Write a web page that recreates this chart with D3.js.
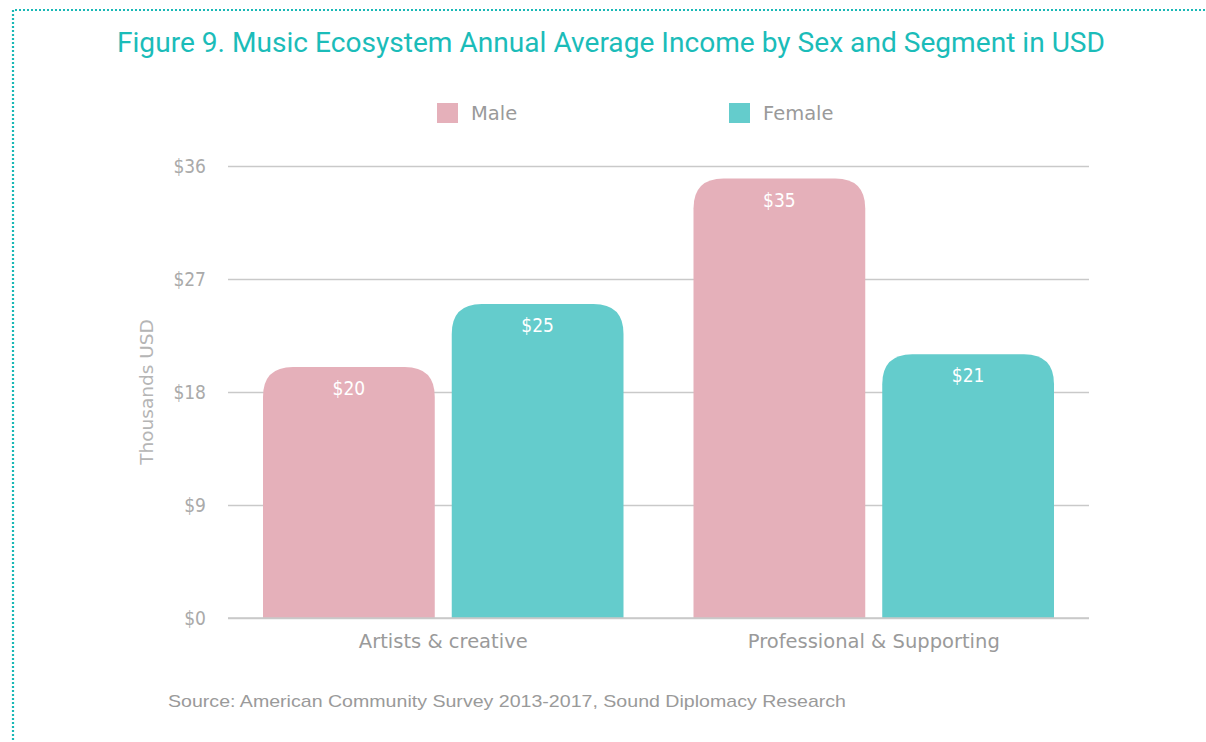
<!DOCTYPE html>
<html>
<head>
<meta charset="utf-8">
<script src="https://cdn.jsdelivr.net/npm/d3@7"></script>
<style>
  html, body { margin: 0; padding: 0; background: #fff; overflow: hidden; }
  svg { display: block; }
</style>
</head>
<body>
<svg id="chart" width="1206" height="742"></svg>
<script>
// Segments, series and values (thousands USD)
const segments = ["Artists & creative", "Professional & Supporting"];
const seriesNames = ["Male", "Female"];
const maleValues = [20, 35];
const femaleValues = [25, 21];
const yTicks = [0, 9, 18, 27, 36];
const seriesColors = ["#e5b0ba", "#64cccc"];

const titleText = "Figure 9. Music Ecosystem Annual Average Income by Sex and Segment in USD";
const sourceText = "Source: American Community Survey 2013-2017, Sound Diplomacy Research";
const yTitle = "Thousands USD";

const rows = segments.map((s, i) => ({ segment: s, values: [maleValues[i], femaleValues[i]] }));

const svg = d3.select("#chart");
const labelFont = "'DejaVu Sans', sans-serif";
const narrowFont = "'DejaVu Sans Condensed', 'DejaVu Sans', sans-serif";

// Dotted frame
svg.append("path")
  .attr("d", "M13,760 V10 H1220")
  .attr("fill", "none")
  .attr("stroke", "#19b8b6")
  .attr("stroke-width", 2.2)
  .attr("stroke-dasharray", "2 2");

// Title
svg.append("text")
  .attr("x", 611).attr("y", 52)
  .attr("text-anchor", "middle")
  .attr("font-family", "Roboto, sans-serif")
  .attr("font-size", 27)
  .attr("fill", "#1bbcb9")
  .attr("textLength", 988)
  .attr("lengthAdjust", "spacingAndGlyphs")
  .text(titleText);

// Plot area
const plot = { left: 228, right: 1089, top: 166, bottom: 618 };

const x0 = d3.scaleBand().domain(segments).range([plot.left, plot.right]).paddingInner(0).paddingOuter(0);
const x1 = d3.scaleBand().domain(seriesNames).range([35, x0.bandwidth() - 35]).paddingInner(0.09);
const y = d3.scaleLinear().domain([0, 36]).range([plot.bottom, plot.top]);
const color = d3.scaleOrdinal().domain(seriesNames).range(seriesColors);

// Gridlines and y tick labels
const yAxis = d3.axisLeft(y)
  .tickValues(yTicks)
  .tickSize(-(plot.right - plot.left))
  .tickPadding(22)
  .tickFormat(d => "$" + d);

const gy = svg.append("g")
  .attr("transform", `translate(${plot.left},0)`)
  .call(yAxis);
gy.select(".domain").remove();
gy.selectAll(".tick line").attr("stroke", "#c9c9c9").attr("stroke-width", 1.5);
gy.selectAll(".tick text")
  .attr("font-family", narrowFont)
  .attr("font-size", 19)
  .attr("fill", "#aaaaaa");

// Y axis title
svg.append("text")
  .attr("transform", "translate(153,392) rotate(-90)")
  .attr("text-anchor", "middle")
  .attr("font-family", labelFont)
  .attr("font-size", 18.5)
  .attr("fill", "#b5b5b5")
  .text(yTitle);

// Bars with rounded top corners
function topRounded(x, yTop, w, h, r) {
  r = Math.min(r, w / 2, h);
  return `M${x},${yTop + h} V${yTop + r} Q${x},${yTop} ${x + r},${yTop} H${x + w - r} Q${x + w},${yTop} ${x + w},${yTop + r} V${yTop + h} Z`;
}

const groups = svg.append("g").selectAll("g")
  .data(rows).join("g")
  .attr("transform", d => `translate(${x0(d.segment)},0)`);

const bars = groups.selectAll("g.bar")
  .data(d => d.values.map((v, i) => ({ name: seriesNames[i], value: v })))
  .join("g").attr("class", "bar");

bars.append("path")
  .attr("d", d => topRounded(x1(d.name), y(d.value), x1.bandwidth(), plot.bottom - y(d.value), 30))
  .attr("fill", d => color(d.name));

bars.append("text")
  .attr("x", d => x1(d.name) + x1.bandwidth() / 2)
  .attr("y", d => y(d.value) + 28)
  .attr("text-anchor", "middle")
  .attr("font-family", narrowFont)
  .attr("font-size", 19)
  .attr("fill", "#ffffff")
  .text(d => "$" + d.value);

// Baseline
svg.append("line")
  .attr("x1", plot.left).attr("x2", plot.right)
  .attr("y1", plot.bottom).attr("y2", plot.bottom)
  .attr("stroke", "#c9c9c9").attr("stroke-width", 1.5);

// Category labels
const xAxis = d3.axisBottom(x0).tickSize(0).tickPadding(16);
const gx = svg.append("g")
  .attr("transform", `translate(0,${plot.bottom})`)
  .call(xAxis);
gx.select(".domain").remove();
gx.selectAll(".tick text")
  .attr("font-family", labelFont)
  .attr("font-size", 19.5)
  .attr("fill", "#9a9a9a");

// Legend
const legend = svg.append("g").selectAll("g")
  .data(seriesNames).join("g")
  .attr("transform", (d, i) => `translate(${i === 0 ? 437 : 729},103)`);
legend.append("rect")
  .attr("width", 21).attr("height", 20)
  .attr("fill", d => color(d));
legend.append("text")
  .attr("x", 34).attr("y", 17)
  .attr("font-family", labelFont)
  .attr("font-size", 19.5)
  .attr("fill", "#9a9a9a")
  .text(d => d);

// Source note
svg.append("text")
  .attr("x", 168).attr("y", 707)
  .attr("font-family", "'Liberation Sans', Arial, sans-serif")
  .attr("font-size", 17)
  .attr("fill", "#9a9a9a")
  .attr("textLength", 678)
  .attr("lengthAdjust", "spacingAndGlyphs")
  .text(sourceText);
</script>
</body>
</html>
